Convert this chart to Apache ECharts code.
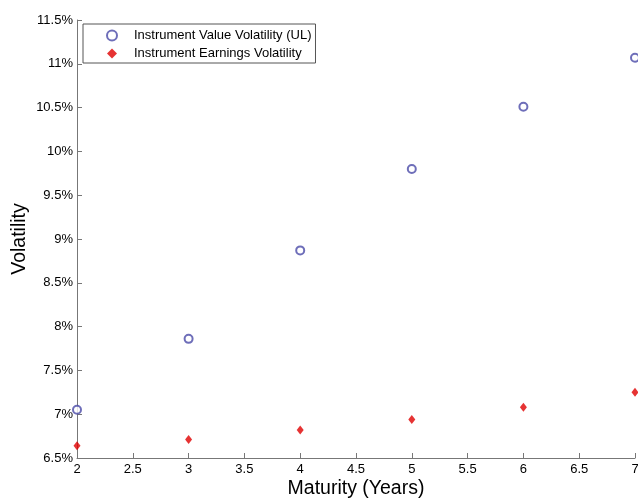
<!DOCTYPE html>
<html>
<head>
<meta charset="utf-8">
<script src="https://cdn.jsdelivr.net/npm/echarts@6/dist/echarts.min.js"></script>
<style>
  html, body { margin: 0; padding: 0; background: #fff; }
  #chart { width: 638px; height: 499px; }
</style>
</head>
<body>
<div id="chart"></div>
<script>
// maturity in years
const maturities = [2, 3, 4, 5, 6, 7];
// volatility in percent
const valueVol = [7.05, 7.86, 8.87, 9.80, 10.51, 11.07];
const earningsVol = [6.64, 6.71, 6.82, 6.94, 7.08, 7.25];

const seriesNames = ['Instrument Value Volatility (UL)', 'Instrument Earnings Volatility'];

const font = '"Liberation Sans", Arial, sans-serif';
const axisColor = '#777';

const chart = echarts.init(document.getElementById('chart'));
chart.setOption({
  animation: false,
  textStyle: { fontFamily: font },
  grid: { left: 77, right: 3, top: 20, bottom: 41, outerBoundsMode: 'none', containLabel: false },
  legend: {
    orient: 'vertical',
    left: 83, top: 24,
    backgroundColor: '#fff',
    borderColor: '#555', borderWidth: 1, borderRadius: 0,
    padding: [5, 4, 3, 23],
    itemGap: 5,
    itemWidth: 10, itemHeight: 10,
    textStyle: { fontFamily: font, fontSize: 13, color: '#000', padding: [0, 0, 0, 12] },
    data: seriesNames
  },
  xAxis: {
    type: 'value',
    min: 2, max: 7, interval: 0.5,
    name: 'Maturity (Years)',
    nameLocation: 'middle', nameGap: 21,
    nameMoveOverlap: false,
    nameTextStyle: { fontFamily: font, fontSize: 19.5, color: '#000' },
    axisLine: { lineStyle: { color: axisColor } },
    axisTick: { inside: true, length: 5, lineStyle: { color: axisColor } },
    axisLabel: { color: '#000', fontSize: 13, margin: 5 },
    splitLine: { show: false }
  },
  yAxis: {
    type: 'value',
    min: 6.5, max: 11.5, interval: 0.5,
    name: 'Volatility',
    nameLocation: 'middle', nameGap: 47,
    nameMoveOverlap: false,
    nameTextStyle: { fontFamily: font, fontSize: 19.5, color: '#000' },
    axisLine: { show: true, lineStyle: { color: axisColor } },
    axisTick: { show: true, inside: true, length: 5, lineStyle: { color: axisColor } },
    axisLabel: {
      color: '#000', fontSize: 13, margin: 4,
      formatter: v => (+v.toFixed(1)) + '%'
    },
    splitLine: { show: false }
  },
  series: [
    {
      name: seriesNames[0],
      type: 'scatter',
      symbol: 'emptyCircle',
      symbolSize: 8,
      itemStyle: { color: '#4a4aa8', borderColor: '#4a4aa8', borderWidth: 1 },
      data: maturities.map((m, i) => [m, valueVol[i]])
    },
    {
      name: seriesNames[1],
      type: 'scatter',
      symbol: 'diamond',
      symbolSize: [7, 9],
      itemStyle: { color: '#e00000' },
      data: maturities.map((m, i) => [m, earningsVol[i]])
    }
  ]
});
</script>
</body>
</html>
